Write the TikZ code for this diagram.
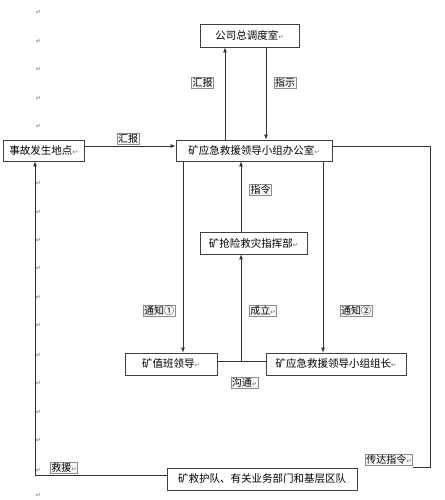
\documentclass[tikz,border=0pt]{standalone}
\usepackage{fontspec}
\setmainfont{Noto Sans CJK SC}
\newfontfamily\dvfont{DejaVu Sans}
\usetikzlibrary{arrows.meta}
\newcommand{\retmark}{{\dvfont\fontsize{6.5}{6.5}\selectfont\textcolor{black!55}{↵}}}
\begin{document}
\begin{tikzpicture}[x=1pt,y=-1pt,
  box/.style={draw=black!75, fill=white, line width=0.8pt, inner sep=0pt, font=\fontsize{10.5}{12}\selectfont},
  lbl/.style={draw=black!45, fill=black!3, line width=0.5pt, inner sep=1pt, font=\fontsize{10}{11}\selectfont},
  ln/.style={draw=black!80, line width=0.8pt},
  arr/.style={ln, -{Latex[length=5pt,width=4pt]}}]
\useasboundingbox (0,0) rectangle (444,500);
\fill[white] (0,0) rectangle (444,500);
% paragraph marks in left column
\foreach \yy [count=\i] in {12,41,69,98,126,183,212,240,268,297,325,355,383,412,440,470,495}
  \node[inner sep=0pt] (pm\i) at (38.5,\yy) {\retmark};
% boxes
\node[box, minimum width=99pt, minimum height=23pt] (hq) at (249.5,35.5) {公司总调度室\retmark};
\node[box, minimum width=81pt, minimum height=21pt] (acc) at (43.5,150.5) {事故发生地点\retmark};
\node[box, minimum width=156pt, minimum height=21pt] (off) at (254,150.5) {矿应急救援领导小组办公室\retmark};
\node[box, minimum width=107pt, minimum height=22pt] (cmd) at (253.5,243) {矿抢险救灾指挥部\retmark};
\node[box, minimum width=92pt, minimum height=22pt] (duty) at (171,364) {矿值班领导\retmark};
\node[box, minimum width=140pt, minimum height=22pt] (lead) at (336,364) {矿应急救援领导小组组长\retmark};
\node[box, minimum width=190pt, minimum height=22pt] (team) at (262,479) {矿救护队、有关业务部门和基层区队};
% helper coordinates
\coordinate (ya) at (0,146);
\coordinate (xb) at (225,0);
\coordinate (xc) at (266,0);
\coordinate (xd) at (183,0);
\coordinate (xe) at (323,0);
\coordinate (xf) at (241,0);
\coordinate (yg) at (0,361);
\coordinate (junc) at (241,361);
\coordinate (rt) at (430,146);
\coordinate (rb) at (430,467);
\coordinate (lb) at (35,475);
\coordinate (yh) at (0,475);
% labels
\node[lbl] (l1) at (202.5,82.5) {汇报};
\node[lbl] (l2) at (285,82.5) {指示};
\node[lbl] (l3) at (128,139) {汇报};
\node[lbl] (l4) at (260.5,189.5) {指令};
\node[lbl] (l5) at (159,311) {通知①};
\node[lbl] (l6) at (263,311) {成立\retmark};
\node[lbl] (l7) at (356,311) {通知②};
\node[lbl] (l8) at (244.5,382.5) {沟通\retmark};
\node[lbl] (l9) at (64,468) {救援\retmark};
\node[lbl] (l10) at (389,460) {传达指令\retmark};
% connectors
\draw[arr] (acc.east |- ya) -- (off.west |- ya);
\draw[arr] (off.north -| xb) -- (hq.south -| xb);
\draw[arr] (hq.south -| xc) -- (off.north -| xc);
\draw[arr] (off.south -| xd) -- (duty.north -| xd);
\draw[arr] (off.south -| xe) -- (lead.north -| xe);
\draw[ln] (duty.east |- yg) -- (lead.west |- yg);
\draw[arr] (junc) -- (cmd.south -| xf);
\draw[arr] (cmd.north -| xf) -- (off.south -| xf);
\draw[ln] (off.east |- ya) -- (rt) -- (rb) -- (l10.east |- rb);
\draw[arr] (team.west |- yh) -- (lb) -- (acc.south -| lb);
\end{tikzpicture}
\end{document}
